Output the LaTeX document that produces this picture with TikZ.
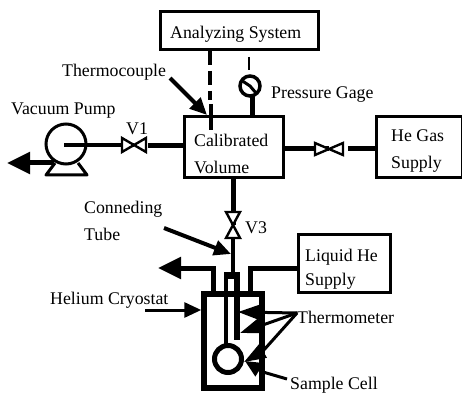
\documentclass[tikz,border=0pt]{standalone}
\usepackage{fontspec}
\setmainfont{Liberation Serif}
\usetikzlibrary{arrows.meta}
\tikzset{
  x=1pt,y=-1pt,
  boxed/.style={draw,line width=3pt,inner sep=0pt},
  txt/.style={font=\fontsize{17.8}{20}\selectfont,anchor=base west,inner sep=0pt},
  pipe/.style={line width=5pt},
  valve/.style={draw,line width=2.4pt,fill=white,line join=miter},
  pointer/.style={line width=4pt,-{Triangle[length=17pt,width=15pt]}},
  flow/.style={line width=5pt,-{Triangle[length=23pt,width=21pt]}}
}
\begin{document}
\begin{tikzpicture}
\useasboundingbox (0,0) rectangle (462,395);
% boxes
\node[boxed,minimum width=158pt,minimum height=38pt] (an) at (239,31) {};
\node[boxed,minimum width=99pt,minimum height=61pt] (cal) at (233.5,147.5) {};
\node[boxed,minimum width=86pt,minimum height=61pt] (he) at (419,147.5) {};
\node[boxed,minimum width=92pt,minimum height=58pt] (liq) at (344,263.5) {};
\node[draw,line width=5.5pt,minimum width=58pt,minimum height=94pt,inner sep=0pt] (cry) at (233,341) {};
% labels
\node[txt] (t1) at (170,39) {Analyzing System};
\node[txt] (t2) at (62,77) {Thermocouple};
\node[txt] (t3) at (271,99) {Pressure Gage};
\node[txt] (t4) at (11,115) {Vacuum Pump};
\node[txt] (t5) at (126,135) {V1};
\node[txt] (t6) at (194,147) {Calibrated};
\node[txt] (t7) at (194,174) {Volume};
\node[txt] (t8) at (391,142) {He Gas};
\node[txt] (t9) at (391,169) {Supply};
\node[txt] (t10) at (84,213) {Conneding};
\node[txt] (t11) at (84,240) {Tube};
\node[txt] (t12) at (245,233) {V3};
\node[txt] (t13) at (305,261) {Liquid He};
\node[txt] (t14) at (305,285) {Supply};
\node[txt] (t15) at (50,304) {Helium Cryostat};
\node[txt] (t16) at (297,323) {Thermometer};
\node[txt] (t17) at (290,389) {Sample Cell};
% coordinates
\coordinate (pc) at (64,145);
\coordinate (v1) at (134,145);
\coordinate (v2) at (329,149);
\coordinate (v3) at (233,225);
\coordinate (gc) at (250,86);
\coordinate (gtop) at (249,57);
\coordinate (gend) at (249,70);
% pump
\node[circle,draw,line width=3pt,minimum size=40pt,inner sep=0pt] (pump) at (66,144) {};
\draw[line width=3pt,line join=round] (55,163) -- (46,175) -- (87,175) -- (78,163);
\draw[flow] (54,163) -- (7,163);
\draw[line width=4.5pt] (pc) -- (v1);
\draw[pipe] (148,146) -- (cal.west |- 0,146);
\draw[valve] (122,138) -- (146,152) -- (146,138) -- (122,152) -- cycle;
% he supply line
\draw[pipe] (cal.east |- v2) -- (v2);
\draw[pipe] (348,149) -- (he.west |- v2);
\draw[valve] (315,143) -- (343,155) -- (343,143) -- (315,155) -- cycle;
% gauge
\node[circle,draw,line width=3.5pt,minimum size=20pt,inner sep=0pt] (gauge) at (gc) {};
\draw[line width=3pt] (241,80) -- (gc) -- (256,93);
\draw[line width=2.4pt] (gtop) -- (gend);
\draw[pipe] (252,96) -- (252,118);
% thermocouple
\draw[line width=3.5pt,dash pattern=on 14pt off 6pt] (210,51) -- (210,100);
\draw[line width=4.5pt] (211,104) -- (211,130);
\draw[pointer] (170,78) -- (207,115);
% vertical tube
\draw[pipe] (233,178) -- (v3);
\draw[valve] (226,212) -- (240,238) -- (226,238) -- (240,212) -- cycle;
\draw[line width=4.5pt] (233,238) -- (233,275);
\draw[pointer] (164,228) -- (231,254);
% cryostat connections
\draw[flow] (213,292) -- (213,268) -- (158,268);
\draw[pipe] (liq.west |- 0,268) -- (250,268) -- (250,292);
% inner tube
\fill (224,272) rectangle (240,279);
\draw[line width=4pt] (226,275) -- (226,347);
\draw[line width=5.5pt] (237,275) -- (237,340);
\node[circle,draw,line width=5pt,fill=white,minimum size=27pt,inner sep=0pt] (cell) at (228,359) {};
% thermometers
\coordinate (th) at (297,313);
\draw[pointer,line width=3pt,-{Triangle[length=22pt,width=15pt]}] (th) -- (238,312);
\draw[pointer,line width=3pt,-{Triangle[length=22pt,width=15pt]}] (th) -- (240,333);
\draw[pointer,line width=3pt,-{Triangle[length=22pt,width=15pt]}] (th) -- (263,351) -- (244,362);
% others
\draw[pointer,line width=3pt] (145,310) -- (cry.west |- 0,310);
\draw[pointer,line width=3pt] (287,379) -- (263,372) -- (245,361);
\end{tikzpicture}
\end{document}
